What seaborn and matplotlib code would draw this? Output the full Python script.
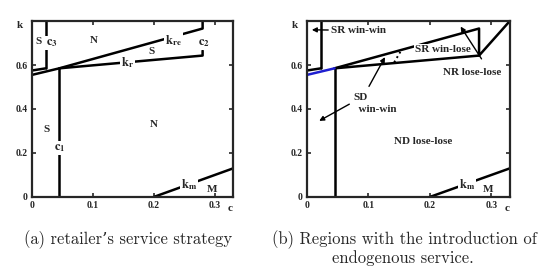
import matplotlib
matplotlib.use("Agg")
import matplotlib.pyplot as plt
import seaborn as sns
import pandas as pd

sns.set_style("ticks")
plt.rcParams['font.family'] = ['Liberation Serif', 'DejaVu Serif']
plt.rcParams['mathtext.fontset'] = 'stix'

# ---- data (boundary curves) ----
c3_x = [0.023, 0.023]; c3_y = [0.80, 0.585]
stop_x = [0.0, 0.023]; stop_y = [0.575, 0.585]
kre_x = [0.0, 0.045, 0.28, 0.28]; kre_y = [0.555, 0.585, 0.766, 0.80]
kr_x = [0.045, 0.28, 0.28]; kr_y = [0.585, 0.643, 0.665]
c1_x = [0.045, 0.045]; c1_y = [0.0, 0.585]
km_x = [0.20, 0.33]; km_y = [0.0, 0.13]
# right panel
blue_x = [0.0, 0.045]; blue_y = [0.555, 0.585]
up_x = [0.045, 0.28, 0.28, 0.33]; up_y = [0.585, 0.766, 0.643, 0.80]
low_x = [0.045, 0.28]; low_y = [0.585, 0.643]
dot_x = [0.142, 0.153]; dot_y = [0.612, 0.665]

x_ticks = [0, 0.1, 0.2, 0.3]
x_ticklabels = ['0', '0.1', '0.2', '0.3']
y_ticks = [0, 0.2, 0.4, 0.6, 0.8]
y_ticklabels = ['0', '0.2', '0.4', '0.6', '']

caption_a = "(a) retailer\u2019s service strategy"
caption_b1 = "(b) Regions with the introduction of"
caption_b2 = "endogenous service."

LW = 1.8
fig = plt.figure(figsize=(5.59, 2.77), dpi=100)
axA = fig.add_axes([0.057, 0.289, 0.360, 0.635])
axB = fig.add_axes([0.549, 0.289, 0.363, 0.635])


def seg(ax, xs, ys, color='black', ls='-', lw=LW):
    df = pd.DataFrame({'x': xs, 'y': ys})
    sns.lineplot(data=df, x='x', y='y', ax=ax, sort=False, estimator=None,
                 color=color, linestyle=ls, linewidth=lw)


def style(ax):
    ax.set_xlim(0, 0.33)
    ax.set_ylim(0, 0.8)
    ax.set_xticks(x_ticks)
    ax.set_xticklabels(x_ticklabels, fontsize=7, fontweight='bold')
    ax.set_yticks(y_ticks)
    ax.set_yticklabels(y_ticklabels, fontsize=7, fontweight='bold')
    ax.tick_params(direction='in', top=True, right=True, length=3, width=1.2, pad=3)
    for s in ax.spines.values():
        s.set_visible(True)
        s.set_linewidth(1.6)
    ax.set_xlabel('')
    ax.set_ylabel('')
    ax.text(-0.06, 0.975, 'k', transform=ax.transAxes, fontsize=8, fontweight='bold',
            ha='center', va='center')
    ax.text(0.985, -0.063, 'c', transform=ax.transAxes, fontsize=8, fontweight='bold',
            ha='center', va='center')


wb = dict(fc='white', ec='none', pad=0.6)
fs = 8
tA = dict(fontsize=fs, fontweight='bold', ha='center', va='center')
tS = dict(fontsize=9, fontweight='bold', ha='center', va='center')

# ---- panel (a) ----
for xs, ys in [(c3_x, c3_y), (stop_x, stop_y), (kre_x, kre_y), (kr_x, kr_y),
               (c1_x, c1_y), (km_x, km_y)]:
    seg(axA, xs, ys)
style(axA)
axA.text(0.011, 0.708, 'S', **tA)
axA.text(0.033, 0.70, r'$\mathbf{c_{3}}$', bbox=wb, **tS)
axA.text(0.102, 0.71, 'N', **tA)
axA.text(0.232, 0.712, r'$\mathbf{k_{re}}$', bbox=wb, **tS)
axA.text(0.196, 0.662, 'S', **tA)
axA.text(0.283, 0.70, r'$\mathbf{c_{2}}$', bbox=wb, **tS)
axA.text(0.157, 0.61, r'$\mathbf{k_{r}}$', bbox=wb, **tS)
axA.text(0.024, 0.305, 'S', **tA)
axA.text(0.20, 0.328, 'N', **tA)
axA.text(0.046, 0.224, r'$\mathbf{c_{1}}$', bbox=wb, **tS)
axA.text(0.258, 0.056, r'$\mathbf{k_{m}}$', bbox=wb, **tS)
axA.text(0.296, 0.032, 'M', **tA)

# ---- panel (b) ----
for xs, ys in [(c3_x, c3_y), (stop_x, stop_y), (up_x, up_y), (low_x, low_y),
               (c1_x, c1_y), (km_x, km_y)]:
    seg(axB, xs, ys)
seg(axB, blue_x, blue_y, color='#1f1fd0')
seg(axB, dot_x, dot_y, ls=':', lw=1.4)
style(axB)
arr = dict(arrowstyle='-|>', color='black', lw=1.0, mutation_scale=7,
           shrinkA=0, shrinkB=0)
axB.text(0.260, 0.056, r'$\mathbf{k_{m}}$', bbox=wb, **tS)
axB.text(0.295, 0.032, 'M', **tA)
axB.annotate('SR win-win', xy=(0.008, 0.76), xytext=(0.040, 0.758),
             fontsize=fs, fontweight='bold', ha='left', va='center', arrowprops=arr)
axB.text(0.221, 0.671, 'SR win-lose', bbox=wb, **tA)
axB.text(0.268, 0.564, 'NR lose-lose', **tA)
axB.annotate('', xy=(0.250, 0.775), xytext=(0.284, 0.628), arrowprops=arr)
axB.text(0.075, 0.425, 'SD\n  win-win', fontsize=fs, fontweight='bold', ha='left',
         va='center', linespacing=1.3)
axB.annotate('', xy=(0.127, 0.636), xytext=(0.101, 0.503), arrowprops=arr)
axB.annotate('', xy=(0.020, 0.346), xytext=(0.069, 0.422), arrowprops=arr)
axB.text(0.189, 0.25, 'ND lose-lose', **tA)

# ---- captions (font size fitted so line (b) spans ~264 px) ----
cap = dict(fontsize=10, family=['cmr10', 'DejaVu Serif'], ha='center', va='center')
ta = fig.text(0.229, 0.134, caption_a, **cap)
tb1 = fig.text(0.724, 0.134, caption_b1, **cap)
tb2 = fig.text(0.721, 0.067, caption_b2, **cap)
fig.canvas.draw()
r = fig.canvas.get_renderer()
w = tb1.get_window_extent(r).width
size = 10 * 264.0 / w
for t in (ta, tb1, tb2):
    t.set_fontsize(size)

fig.savefig('out.png', dpi=100)
